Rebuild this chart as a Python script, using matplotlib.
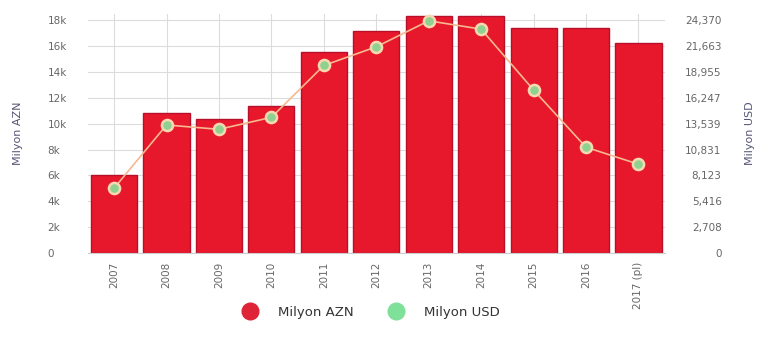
import numpy as np
import matplotlib.pyplot as plt
from matplotlib.lines import Line2D

years = ["2007", "2008", "2009", "2010", "2011", "2012", "2013", "2014", "2015", "2016", "2017 (pl)"]
azn = [6000, 10800, 10350, 11350, 15550, 17150, 18350, 18350, 17400, 17400, 16200]
usd = [6790, 13400, 12950, 14200, 19630, 21580, 24300, 23430, 17060, 11070, 9300]

left_ticks = [0, 2000, 4000, 6000, 8000, 10000, 12000, 14000, 16000, 18000]
left_labels = ["0", "2k", "4k", "6k", "8k", "10k", "12k", "14k", "16k", "18k"]
right_ticks = [0, 2708, 5416, 8123, 10831, 13539, 16247, 18955, 21663, 24370]

bar_color = "#e8182c"
edge_color = "#b8102a"
line_color = "#f6b88f"
dot_color = "#8fd190"
text_color = "#666666"

fig = plt.figure(figsize=(7.64, 3.51), dpi=100)
ax = fig.add_axes([0.115, 0.279, 0.755, 0.682])
x = np.arange(len(years))

ax.bar(x, azn, width=0.88, color=bar_color, edgecolor=edge_color, linewidth=1.0, zorder=2)
ax.set_xlim(-0.5, len(years) - 0.5)
top = 18500
ax.set_ylim(0, top)
ax.set_yticks(left_ticks)
ax.set_yticklabels(left_labels, ha="left")
ax.set_xticks(x)
ax.set_xticklabels(years, rotation=90, va="top", ha="center")
ax.grid(True, color="#dcdcdc", linewidth=0.8, zorder=0)
ax.set_axisbelow(True)
for s in ["top", "right", "left"]:
    ax.spines[s].set_visible(False)
ax.spines["bottom"].set_color("#cccccc")
ax.tick_params(axis="both", length=0, labelsize=7.5, colors=text_color)
ax.tick_params(axis="x", pad=6)
ax.tick_params(axis="y", pad=29)
ax.set_ylabel("Milyon AZN", fontsize=8, color="#555577")
ax.yaxis.set_label_coords(-0.113, 0.5)

ax2 = ax.twinx()
ax2.set_ylim(0, top * 24370 / 18000)
ax2.set_yticks(right_ticks)
ax2.set_yticklabels([f"{v:,}" for v in right_ticks], ha="right")
for s in ["top", "right", "left", "bottom"]:
    ax2.spines[s].set_visible(False)
ax2.tick_params(axis="y", length=0, labelsize=7.5, colors=text_color, pad=41)
ax2.set_ylabel("Milyon USD", fontsize=8, color="#555577")
ax2.yaxis.set_label_coords(1.139, 0.5)
ax2.plot(x, usd, color=line_color, linewidth=1.2, marker="o", markersize=8,
         markerfacecolor=dot_color, markeredgecolor="#f7d8b0", markeredgewidth=1.8, zorder=3)

handles = [
    Line2D([], [], linestyle="none", marker="o", markersize=12, color="#e02437"),
    Line2D([], [], linestyle="none", marker="o", markersize=12, color="#7fe09a"),
]
fig.legend(handles, ["Milyon AZN", "Milyon USD"], loc="center", bbox_to_anchor=(0.482, 0.11),
           ncol=2, frameon=False, fontsize=9.5, labelcolor="#333333", handletextpad=1.1,
           columnspacing=2.2)

fig.savefig("out.png", dpi=100)
